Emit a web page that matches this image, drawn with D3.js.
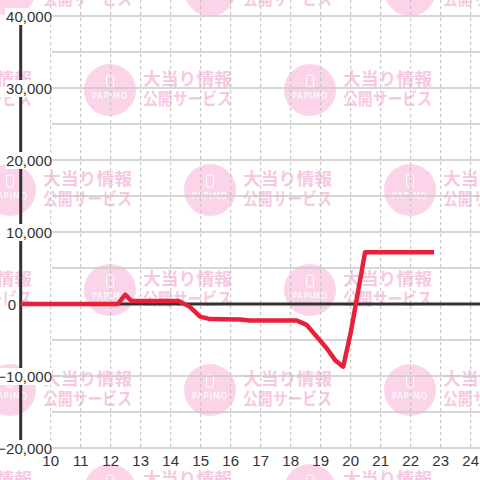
<!DOCTYPE html>
<html>
<head>
<meta charset="utf-8">
<script src="https://cdn.jsdelivr.net/npm/d3@7"></script>
<style>
  body { margin: 0; background: #fff; }
  svg { display: block; }
</style>
</head>
<body>
<svg width="480" height="480"></svg>
<script>
// Hours of the day (x) and the running balance (y)
let hours = [9, 12.24, 12.48, 12.7, 14.28, 14.64, 14.98, 15.31, 16.31, 16.64, 18.2, 18.53, 19.2, 19.48, 19.75, 20.0, 20.48, 22.78];
let values = [0, 0, 1300, 400, 400, -400, -1750, -2100, -2150, -2300, -2300, -2900, -6150, -7800, -8700, -4000, 7200, 7200];

// Tick labels
let xTicks = [10, 11, 12, 13, 14, 15, 16, 17, 18, 19, 20, 21, 22, 23, 24];
let yTicks = [-20000, -10000, 0, 10000, 20000, 30000, 40000];
let yGrid = [-20000, -15000, -10000, -5000, 0, 5000, 10000, 15000, 20000, 25000, 30000, 35000, 40000];

// Watermark texts
let markLine1 = "大当り情報";
let markLine2 = "公開サービス";
let markLogo = "PAPIMO";

let svg = d3.select("svg");
let width = 480;
let height = 480;

let x = d3.scaleLinear().domain([9, 24]).range([20.7, 470.7]);
let y = d3.scaleLinear().domain([-20000, 40000]).range([448, 16]);

let fmt = d3.format(",");

// white background
svg.append("rect").attr("width", width).attr("height", height).attr("fill", "#fff");

// Watermark pattern, drawn under everything
function drawMark(cx, cy) {
  let g = svg.append("g").attr("transform", "translate(" + cx + "," + cy + ")");
  g.append("circle").attr("r", 26).attr("fill", "#fbd4ea");
  g.append("rect")
    .attr("x", -3.5).attr("y", -15).attr("width", 7).attr("height", 12)
    .attr("rx", 1.5)
    .attr("fill", "none").attr("stroke", "#fff").attr("stroke-width", 1);
  g.append("text")
    .attr("x", 0).attr("y", 9)
    .attr("text-anchor", "middle")
    .attr("font-family", "DejaVu Sans, sans-serif")
    .attr("font-size", 8)
    .attr("letter-spacing", 1)
    .attr("fill", "#fff")
    .text(markLogo);
  g.append("text")
    .attr("x", 33).attr("y", -5)
    .attr("font-family", "Noto Sans CJK JP")
    .attr("font-weight", "bold")
    .attr("font-size", 17)
    .attr("textLength", 89)
    .attr("lengthAdjust", "spacingAndGlyphs")
    .attr("fill", "#f7c8e1")
    .text(markLine1);
  g.append("text")
    .attr("x", 33).attr("y", 14.5)
    .attr("font-family", "Noto Sans CJK JP")
    .attr("font-weight", "bold")
    .attr("font-size", 17)
    .attr("textLength", 89)
    .attr("lengthAdjust", "spacingAndGlyphs")
    .attr("fill", "#f7c8e1")
    .text(markLine2);
}

for (let row = 0; row < 6; row++) {
  let cy = -10 + row * 100;
  let startX = row % 2 == 0 ? -190 : -90;
  for (let cx = startX; cx < width + 50; cx += 200) {
    drawMark(cx, cy);
  }
}

// Vertical dashed grid (every hour)
svg.append("g")
  .selectAll("line")
  .data(xTicks)
  .enter()
  .append("line")
  .attr("x1", function (d) { return x(d); })
  .attr("x2", function (d) { return x(d); })
  .attr("y1", 0)
  .attr("y2", y(-20000))
  .attr("stroke", "#bdbdbd")
  .attr("stroke-width", 1)
  .attr("stroke-dasharray", "3,3");

// Horizontal grid (every 5,000)
svg.append("g")
  .selectAll("line")
  .data(yGrid)
  .enter()
  .append("line")
  .attr("x1", 52)
  .attr("x2", width)
  .attr("y1", function (d) { return y(d); })
  .attr("y2", function (d) { return y(d); })
  .attr("stroke", "#c8c8c8")
  .attr("stroke-width", 1.5);

// Zero line
svg.append("line")
  .attr("x1", x(9)).attr("x2", width)
  .attr("y1", y(0)).attr("y2", y(0))
  .attr("stroke", "#333").attr("stroke-width", 3);

// Y axis line
svg.append("line")
  .attr("x1", x(9)).attr("x2", x(9))
  .attr("y1", y(40000)).attr("y2", y(-20000))
  .attr("stroke", "#333").attr("stroke-width", 3);

// Balance line
let points = hours.map(function (h, i) { return [h, values[i]]; });
let line = d3.line()
  .x(function (d) { return x(d[0]); })
  .y(function (d) { return y(d[1]); });

svg.append("path")
  .datum(points)
  .attr("d", line)
  .attr("fill", "none")
  .attr("stroke", "#e8213a")
  .attr("stroke-width", 4.5)
  .attr("stroke-linejoin", "round")
  .attr("stroke-linecap", "butt");

// Y labels with white boxes behind them
let yLabels = svg.append("g");
yTicks.forEach(function (v) {
  let lx = v == 0 ? 16 : 52;
  let t = yLabels.append("text")
    .attr("x", lx)
    .attr("y", y(v) + 6)
    .attr("text-anchor", "end")
    .attr("font-family", "Liberation Sans, Arial, sans-serif")
    .attr("font-size", 15)
    .attr("fill", "#333")
    .text(fmt(v));
  let b = t.node().getBBox();
  yLabels.insert("rect", "text")
    .attr("x", b.x - 1).attr("y", b.y)
    .attr("width", b.width + 1).attr("height", b.height)
    .attr("fill", "#fff");
});

// X labels
svg.append("g")
  .selectAll("text")
  .data(xTicks)
  .enter()
  .append("text")
  .attr("x", function (d) { return x(d); })
  .attr("y", 466)
  .attr("text-anchor", "middle")
  .attr("font-family", "Liberation Sans, Arial, sans-serif")
  .attr("font-size", 15)
  .attr("fill", "#333")
  .text(function (d) { return d; });
</script>
</body>
</html>
